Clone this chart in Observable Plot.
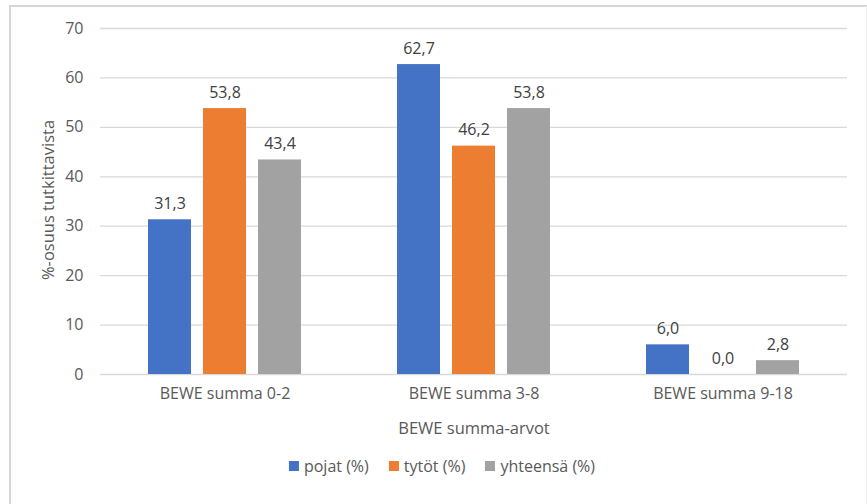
<!DOCTYPE html>
<html>
<head>
<meta charset="utf-8">
<script src="https://cdn.jsdelivr.net/npm/d3@7"></script>
<script src="https://cdn.jsdelivr.net/npm/@observablehq/plot@0.6"></script>
<style>
  html, body { margin: 0; padding: 0; background: #fff; }
  body { width: 867px; height: 504px; position: relative; overflow: hidden; font-family: "Open Sans", sans-serif; color: #595959; }
  #frame { position: absolute; left: 9px; top: 5px; width: 858px; height: 520px; border-left: 2px solid #d6d6d6; border-top: 2px solid #d6d6d6; border-right: 1px solid #ededed; box-sizing: border-box; pointer-events: none; }
  #chart { position: absolute; left: 0; top: 0; }
  #ylabel { position: absolute; left: 47px; top: 200px; transform: translate(-50%, -50%) rotate(-90deg); white-space: nowrap; font-size: 16.5px; color: #595959; }
  #xlabel { position: absolute; left: 474px; top: 427px; transform: translate(-50%, -50%); white-space: nowrap; font-size: 16.5px; color: #595959; }
  #legend { position: absolute; left: 442px; top: 466px; transform: translate(-50%, -50%); white-space: nowrap; font-size: 16px; color: #595959; display: flex; gap: 20px; align-items: center; }
  #legend span.item { display: inline-flex; align-items: center; gap: 5px; }
  #legend span.sw { display: inline-block; width: 10px; height: 10px; }
</style>
</head>
<body>
<div id="chart"></div>
<div id="ylabel">%-osuus tutkittavista</div>
<div id="xlabel">BEWE summa-arvot</div>
<div id="legend"></div>
<div id="frame"></div>
<script>
const categories = ["BEWE summa 0-2", "BEWE summa 3-8", "BEWE summa 9-18"];
const series = ["pojat (%)", "tytöt (%)", "yhteensä (%)"];
const pojat = [31.3, 62.7, 6.0];
const tytot = [53.8, 46.2, 0.0];
const yhteensa = [43.4, 53.8, 2.8];
const yTicks = [0, 10, 20, 30, 40, 50, 60, 70];
const colors = ["#4472C4", "#ED7D31", "#A2A2A2"];

const seriesValues = [pojat, tytot, yhteensa];
const data = [];
categories.forEach((c, i) => {
  series.forEach((s, j) => {
    data.push({cat: c, series: s, value: seriesValues[j][i]});
  });
});

const fmt = v => v.toFixed(1).replace(".", ",");

const chart = Plot.plot({
  width: 867,
  height: 450,
  marginTop: 28,
  marginBottom: 76,
  marginLeft: 100,
  marginRight: 20,
  style: {fontFamily: "Open Sans, sans-serif", fontSize: "16px", color: "#595959", background: "transparent"},
  fx: {domain: categories, padding: 0, label: null, tickSize: 0, tickPadding: 13, fontSize: 16},
  x: {domain: series, paddingInner: 0.22, paddingOuter: 0.87, axis: null},
  y: {domain: [0, 70], ticks: yTicks, tickSize: 0, tickPadding: 17, label: null, fontSize: 16},
  color: {domain: series, range: colors},
  marks: [
    Plot.ruleY(yTicks, {stroke: "#d9d9d9", strokeWidth: 1.3}),
    Plot.barY(data, {fx: "cat", x: "series", y: "value", fill: "series"}),
    Plot.text(data, {fx: "cat", x: "series", y: "value", text: d => fmt(d.value), lineAnchor: "bottom", dy: -11, fill: "#404040", fontSize: 16})
  ]
});
document.getElementById("chart").appendChild(chart);

const legend = document.getElementById("legend");
series.forEach((s, j) => {
  const item = document.createElement("span");
  item.className = "item";
  const sw = document.createElement("span");
  sw.className = "sw";
  sw.style.background = colors[j];
  const t = document.createElement("span");
  t.textContent = s;
  item.appendChild(sw);
  item.appendChild(t);
  legend.appendChild(item);
});
</script>
</body>
</html>
